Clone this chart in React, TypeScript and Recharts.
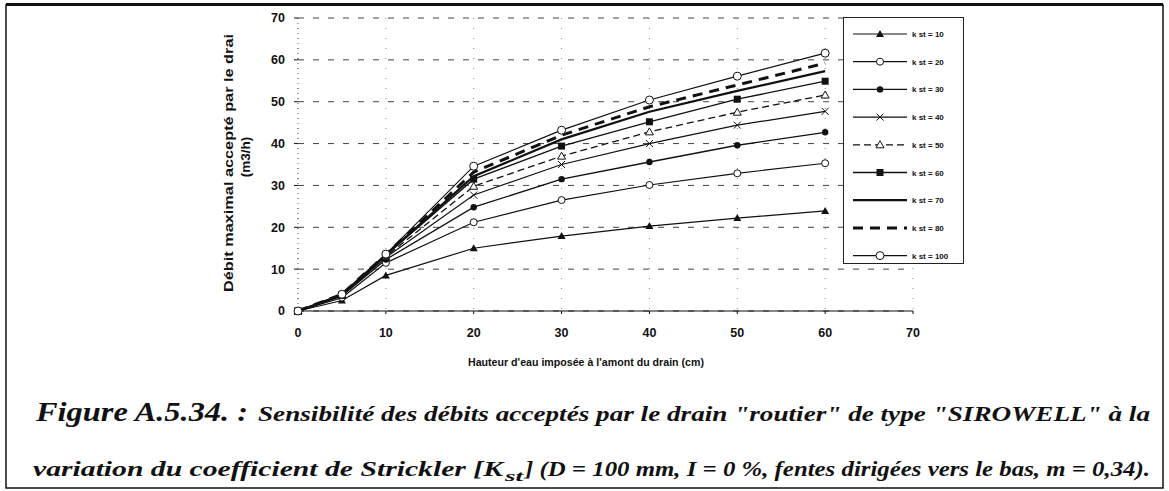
import { LineChart, Line, XAxis, YAxis, CartesianGrid, Legend } from 'recharts';

// x positions (cm) and read-off flow values (m3/h) for each Strickler coefficient
const heights = [0, 5, 10, 20, 30, 40, 50, 60];
const kst10 = [0, 2.5, 8.5, 15, 17.9, 20.3, 22.2, 23.9];
const kst20 = [0, 3.2, 11.5, 21.2, 26.5, 30.1, 32.9, 35.3];
const kst30 = [0, 3.6, 12.3, 24.8, 31.5, 35.6, 39.6, 42.7];
const kst40 = [0, 3.7, 12.8, 27.7, 35, 40, 44.4, 47.7];
const kst50 = [0, 3.8, 13, 29.8, 37, 42.8, 47.5, 51.6];
const kst60 = [0, 3.9, 13.3, 31.5, 39.4, 45.2, 50.6, 54.9];
const kst70 = [0, 3.9, 13.4, 32.2, 41, 47.6, 52.6, 57.3];
const kst80 = [0, 4, 13.5, 33.2, 42, 48.8, 54, 59.2];
const kst100 = [0, 4, 13.6, 34.6, 43.2, 50.4, 56.1, 61.6];

const xTicks = [0, 10, 20, 30, 40, 50, 60, 70];
const yTicks = [0, 10, 20, 30, 40, 50, 60, 70];

type MarkerKind = 'tri' | 'ocircle' | 'dot' | 'cross' | 'otri' | 'square' | 'bigcircle' | 'none';

const series: { key: string; label: string; values: number[]; width: number; dash?: string; marker: MarkerKind }[] = [
  { key: 'k10', label: 'k st = 10', values: kst10, width: 1.2, marker: 'tri' },
  { key: 'k20', label: 'k st = 20', values: kst20, width: 1.2, marker: 'ocircle' },
  { key: 'k30', label: 'k st = 30', values: kst30, width: 1.3, marker: 'dot' },
  { key: 'k40', label: 'k st = 40', values: kst40, width: 1.2, marker: 'cross' },
  { key: 'k50', label: 'k st = 50', values: kst50, width: 1.3, dash: '7 4', marker: 'otri' },
  { key: 'k60', label: 'k st = 60', values: kst60, width: 1.3, marker: 'square' },
  { key: 'k70', label: 'k st = 70', values: kst70, width: 2.2, marker: 'none' },
  { key: 'k80', label: 'k st = 80', values: kst80, width: 3, dash: '10 7', marker: 'none' },
  { key: 'k100', label: 'k st = 100', values: kst100, width: 1.2, marker: 'bigcircle' },
];

const data = heights.map((h, i) => {
  const row: Record<string, number> = { h };
  series.forEach(s => { row[s.key] = s.values[i]; });
  return row;
});

const INK = '#111';
const SANS = "'Liberation Sans', Arial, sans-serif";

function Marker({ kind, cx, cy }: { kind: MarkerKind; cx: number; cy: number }) {
  switch (kind) {
    case 'tri':
      return <polygon points={`${cx},${cy - 4} ${cx - 4},${cy + 3} ${cx + 4},${cy + 3}`} fill={INK} />;
    case 'ocircle':
      return <circle cx={cx} cy={cy} r={3.5} fill="#fff" stroke={INK} strokeWidth={1} />;
    case 'dot':
      return <circle cx={cx} cy={cy} r={3.2} fill={INK} />;
    case 'cross':
      return (
        <path d={`M${cx - 3.5},${cy - 3.5}L${cx + 3.5},${cy + 3.5}M${cx - 3.5},${cy + 3.5}L${cx + 3.5},${cy - 3.5}`} stroke={INK} strokeWidth={1} />
      );
    case 'otri':
      return <polygon points={`${cx},${cy - 4} ${cx - 4},${cy + 3} ${cx + 4},${cy + 3}`} fill="#fff" stroke={INK} strokeWidth={1} />;
    case 'square':
      return <rect x={cx - 3.5} y={cy - 3.5} width={7} height={7} fill={INK} />;
    case 'bigcircle':
      return <circle cx={cx} cy={cy} r={4} fill="#fff" stroke={INK} strokeWidth={1} />;
    default:
      return null;
  }
}

function LegendBox() {
  return (
    <svg width={121} height={247} style={{ display: 'block' }}>
      <rect x={0.5} y={0.5} width={120} height={246} fill="#fff" stroke="#222" strokeWidth={1} />
      {series.map((s, i) => {
        const y = 17 + i * 27.7;
        return (
          <g key={s.key}>
            <line x1={10} x2={64} y1={y} y2={y} stroke={INK} strokeWidth={s.width} strokeDasharray={s.dash} />
            <Marker kind={s.marker} cx={37} cy={y} />
            <text x={69} y={y + 3} fontSize={8} fontWeight="bold" fill={INK} fontFamily={SANS}>
              {s.label}
            </text>
          </g>
        );
      })}
    </svg>
  );
}

const tickStyle = { fontSize: 12.5, fontWeight: 'bold', fill: INK, fontFamily: SANS };

export default function App() {
  return (
    <div style={{ position: 'absolute', left: 0, top: 0, width: 1169, height: 491, background: '#fff' }}>
      <LineChart width={1169} height={491} data={data} margin={{ top: 18, right: 256, bottom: 150, left: 238 }}>
        <CartesianGrid vertical={false} stroke="#444" strokeDasharray="6 9" />
        <CartesianGrid horizontal={false} stroke="#888" strokeDasharray="1 9" />
        <XAxis
          dataKey="h"
          type="number"
          domain={[0, 70]}
          ticks={xTicks}
          height={30}
          tick={tickStyle}
          tickSize={3}
          tickMargin={14}
          axisLine={{ stroke: INK, strokeWidth: 1.2 }}
          tickLine={{ stroke: INK }}
          label={{
            content: () => (
              <text x={586} y={366} textAnchor="middle" fontSize={11.5} fontWeight="bold" fill={INK} fontFamily={SANS} textLength={236} lengthAdjust="spacingAndGlyphs">
                Hauteur d'eau imposée à l'amont du drain (cm)
              </text>
            ),
          }}
        />
        <YAxis
          type="number"
          domain={[0, 70]}
          ticks={yTicks}
          width={60}
          tick={tickStyle}
          tickSize={4}
          tickMargin={9}
          axisLine={{ stroke: '#555', strokeDasharray: '1 4' }}
          tickLine={{ stroke: INK }}
          label={{
            content: () => (
              <g fontSize={13.5} fontWeight="bold" fill={INK} fontFamily={SANS} textAnchor="middle">
                <text x={228} y={163} transform="rotate(-90 228 163)" dy="0.35em" textLength={258} lengthAdjust="spacingAndGlyphs">
                  Débit maximal accepté par le drai
                </text>
                <text x={245} y={157} transform="rotate(-90 245 157)" dy="0.35em">
                  (m3/h)
                </text>
              </g>
            ),
          }}
        />
        <Legend
          layout="vertical"
          verticalAlign="middle"
          align="center"
          wrapperStyle={{ left: 843, top: 17, width: 121, height: 247, right: 'auto', bottom: 'auto' }}
          content={() => <LegendBox />}
        />
        {series.map(s => (
          <Line
            key={s.key}
            dataKey={s.key}
            name={s.label}
            stroke={INK}
            strokeWidth={s.width}
            strokeDasharray={s.dash}
            isAnimationActive={false}
            dot={(p: any) => <Marker key={`${s.key}-${p.index}`} kind={s.marker} cx={p.cx} cy={p.cy} />}
            activeDot={false}
          />
        ))}
      </LineChart>
      <svg width={1169} height={491} style={{ position: 'absolute', left: 0, top: 0, pointerEvents: 'none' }}>
        <rect x={6} y={5} width={1157} height={483} fill="none" stroke={INK} strokeWidth={1.5} />
        <line x1={6} x2={1163} y1={4.5} y2={4.5} stroke={INK} strokeWidth={3} />
        <g fontFamily="'Liberation Serif', 'Times New Roman', serif" fontWeight="bold" fontStyle="italic" fill={INK}>
          <text x={36} y={421} fontSize={28} textLength={212} lengthAdjust="spacingAndGlyphs">
            Figure A.5.34. :
          </text>
          <text x={258} y={421} fontSize={21} textLength={892} lengthAdjust="spacingAndGlyphs">
            Sensibilité des débits acceptés par le drain "routier" de type "SIROWELL" à la
          </text>
          <text x={33} y={476} fontSize={21} textLength={470} lengthAdjust="spacingAndGlyphs">
            variation du coefficient de Strickler [K
          </text>
          <text x={505} y={481} fontSize={14} textLength={18} lengthAdjust="spacingAndGlyphs">
            st
          </text>
          <text x={525} y={476} fontSize={21} textLength={625} lengthAdjust="spacingAndGlyphs">
            ] (D = 100 mm, I = 0 %, fentes dirigées vers le bas, m = 0,34).
          </text>
        </g>
      </svg>
    </div>
  );
}
